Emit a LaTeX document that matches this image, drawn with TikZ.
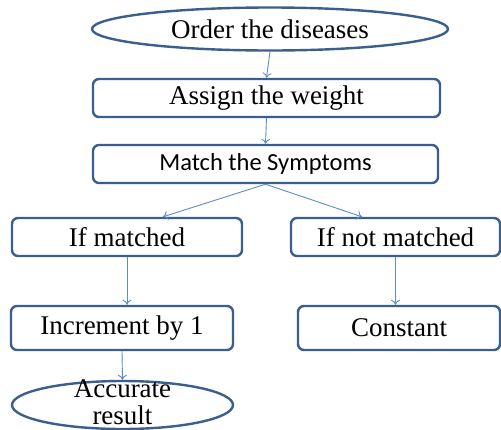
\documentclass[tikz,border=0pt]{standalone}
\usepackage{fontspec}
\setmainfont{Liberation Serif}
\newfontfamily\calfont{Carlito}
\usetikzlibrary{shapes.geometric,arrows.meta,calc}
\definecolor{edge}{HTML}{3A5F8E}
\definecolor{link}{HTML}{5B8BD0}
\tikzset{
  stepbox/.style={draw=edge, line width=2.4pt, rounded corners=6pt, fill=white,
    inner sep=0pt, align=center},
  termbox/.style={draw=edge, line width=2.4pt, ellipse, fill=white,
    inner sep=0pt, align=center},
  flow/.style={draw=link, line width=0.9pt, -{To[length=5pt,width=9pt]}},
  big/.style={font=\fontsize{27}{27}\selectfont},
}
\begin{document}
\begin{tikzpicture}[x=1pt,y=-1pt]
\useasboundingbox (0,0) rectangle (501,429);
\node[termbox, big, minimum width=356pt, minimum height=43pt] (order) at (270,29) {Order the diseases};
\node[stepbox, big, minimum width=347pt, minimum height=38pt] (assign) at (266.5,98) {Assign the weight};
\node[stepbox, font=\calfont\fontsize{24.5}{26}\selectfont, minimum width=345pt, minimum height=38pt] (match) at (265.5,164) {Match the Symptoms};
\node[stepbox, big, minimum width=230pt, minimum height=38pt] (ifm) at (127,237) {If matched};
\node[stepbox, big, minimum width=209pt, minimum height=38pt] (ifn) at (395.5,237) {If not matched};
\node[stepbox, big, minimum width=222pt, minimum height=44pt] (inc) at (122,328) {Increment by 1};
\node[stepbox, big, minimum width=202pt, minimum height=44pt] (const) at (399,328) {Constant};
\node[termbox, minimum width=221pt, minimum height=48pt] (acc) at (122.5,405) {};
\node[big, align=center, inner sep=0pt] (acctext) at (122.5,402.5) {Accurate\\result};
\coordinate (ifmin) at ($(ifm.north)+(36,0)$);
\coordinate (ifnin) at ($(ifn.north)+(-33.5,0)$);
\draw[flow] (order.south) -- (assign.north);
\draw[flow] (assign.south) -- (match.north);
\draw[flow] (match.south) -- (ifmin);
\draw[flow] (match.south) -- (ifnin);
\draw[flow] (ifm.south) -- (ifm.south |- inc.north);
\draw[flow] (ifn.south) -- (ifn.south |- const.north);
\draw[flow] (inc.south) -- (acc.north);
\end{tikzpicture}
\end{document}
